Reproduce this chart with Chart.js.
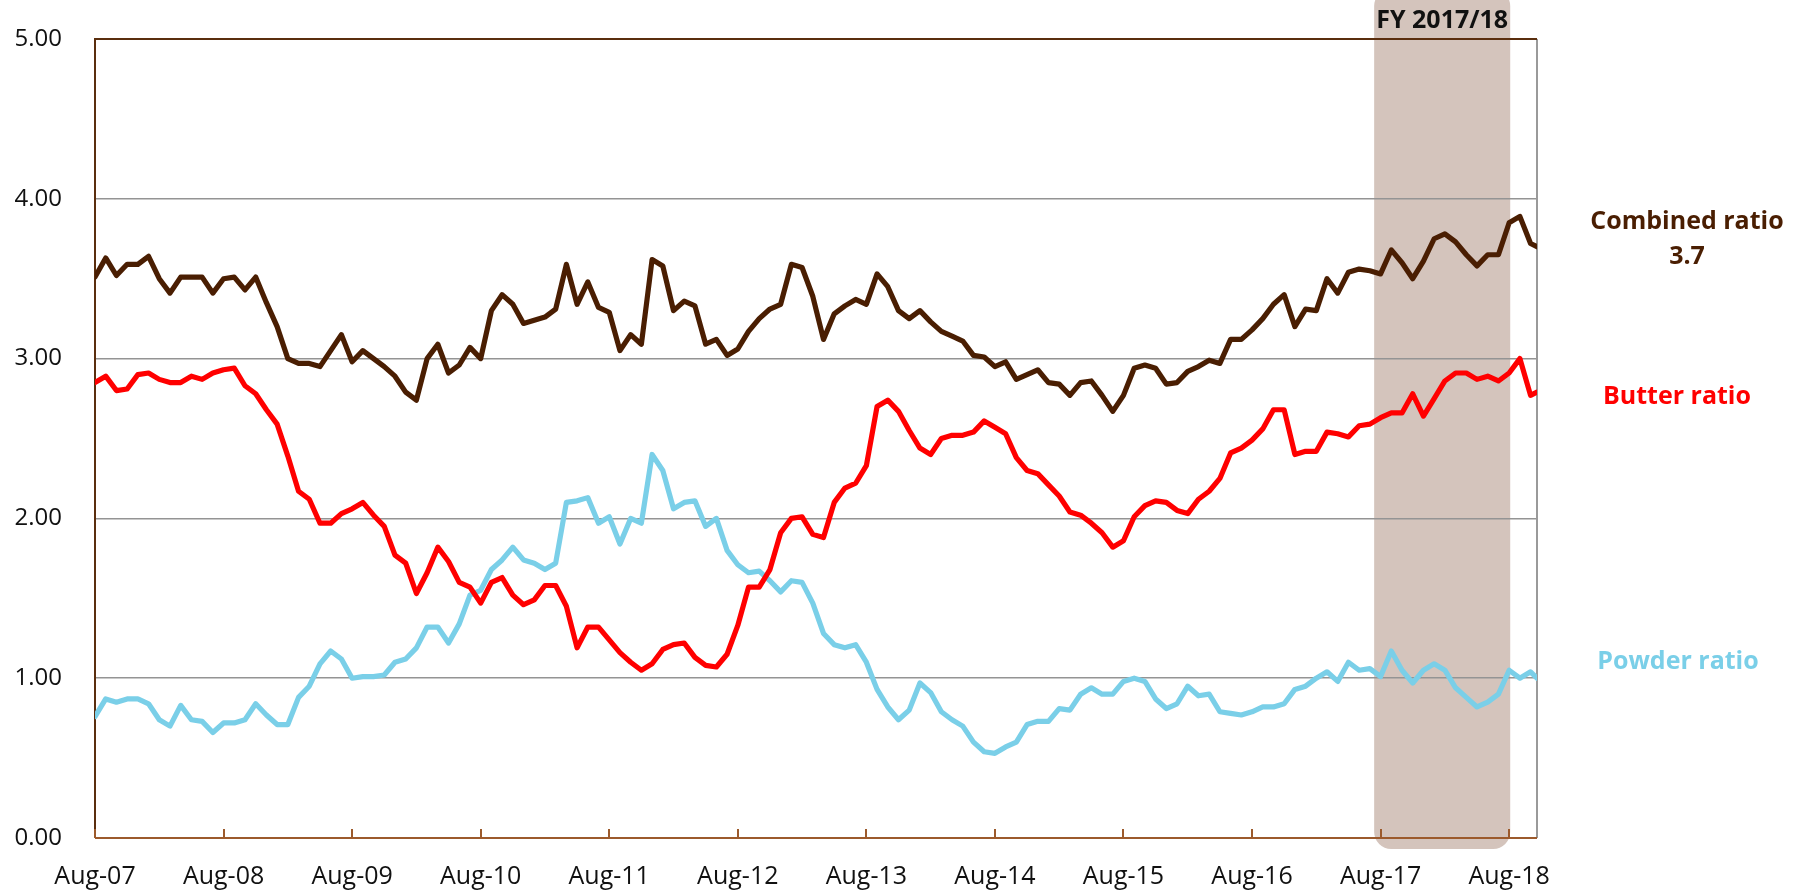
<!DOCTYPE html>
<html><head><meta charset="utf-8">
<script src="https://cdn.jsdelivr.net/npm/chart.js@4/dist/chart.umd.min.js"></script>
<style>html,body{margin:0;padding:0;background:#fff;}canvas{display:block;}</style>
</head><body>
<canvas id="c" width="1797" height="892"></canvas>
<script>
// x positions: months since Aug-07
const tickMonths = [0,12,24,36,48,60,72,84,96,108,120,132];
const tickLabels = ["Aug-07","Aug-08","Aug-09","Aug-10","Aug-11","Aug-12","Aug-13","Aug-14","Aug-15","Aug-16","Aug-17","Aug-18"];
const yTicks = [0,1,2,3,4,5];
const months = Array.from({length:135},(_, i)=>i).concat([134.6]);

const combined = [3.51,3.63,3.52,3.59,3.59,3.64,3.50,3.41,3.51,3.51,3.51,3.41,3.50,3.51,3.43,3.51,3.35,3.20,3.00,2.97,2.97,2.95,3.05,
3.15,2.98,3.05,3.00,2.95,2.89,2.79,2.74,3.00,3.09,2.91,2.96,3.07,3.00,3.30,3.40,3.34,3.22,3.24,3.26,3.31,3.59,
3.34,3.48,3.32,3.29,3.05,3.15,3.09,3.62,3.58,3.30,3.36,3.33,3.09,3.12,3.02,3.06,3.17,3.25,3.31,3.34,3.59,3.57,3.39,
3.12,3.28,3.33,3.37,3.34,3.53,3.45,3.30,3.25,3.30,3.23,3.17,3.14,3.11,3.02,3.01,2.95,2.98,2.87,2.90,2.93,2.85,
2.84,2.77,2.85,2.86,2.77,2.67,2.77,2.94,2.96,2.94,2.84,2.85,2.92,2.95,2.99,2.97,3.12,3.12,3.18,3.25,3.34,3.40,3.20,
3.31,3.30,3.50,3.41,3.54,3.56,3.55,3.53,3.68,3.60,3.50,3.61,3.75,3.78,3.73,3.65,3.58,3.65,3.65,3.85,3.89,3.72,3.70];

const butter = [2.85,2.89,2.80,2.81,2.90,2.91,2.87,2.85,2.85,2.89,2.87,2.91,2.93,2.94,2.83,2.78,2.68,2.59,2.39,2.17,2.12,1.97,1.97,
2.03,2.06,2.10,2.02,1.95,1.77,1.72,1.53,1.66,1.82,1.73,1.60,1.57,1.47,1.60,1.63,1.52,1.46,1.49,1.58,1.58,1.45,
1.19,1.32,1.32,1.24,1.16,1.10,1.05,1.09,1.18,1.21,1.22,1.13,1.08,1.07,1.15,1.33,1.57,1.57,1.68,1.91,2.00,2.01,1.90,
1.88,2.10,2.19,2.22,2.33,2.70,2.74,2.67,2.55,2.44,2.40,2.50,2.52,2.52,2.54,2.61,2.57,2.53,2.38,2.30,2.28,2.21,
2.14,2.04,2.02,1.97,1.91,1.82,1.86,2.01,2.08,2.11,2.10,2.05,2.03,2.12,2.17,2.25,2.41,2.44,2.49,2.56,2.68,2.68,2.40,
2.42,2.42,2.54,2.53,2.51,2.58,2.59,2.63,2.66,2.66,2.78,2.64,2.75,2.86,2.91,2.91,2.87,2.89,2.86,2.91,3.00,2.77,2.79];

const powder = [0.76,0.87,0.85,0.87,0.87,0.84,0.74,0.70,0.83,0.74,0.73,0.66,0.72,0.72,0.74,0.84,0.77,0.71,0.71,0.88,0.95,1.09,1.17,
1.12,1.00,1.01,1.01,1.02,1.10,1.12,1.19,1.32,1.32,1.22,1.34,1.52,1.55,1.68,1.74,1.82,1.74,1.72,1.68,1.72,2.10,
2.11,2.13,1.97,2.01,1.84,2.00,1.97,2.40,2.30,2.06,2.10,2.11,1.95,2.00,1.80,1.71,1.66,1.67,1.61,1.54,1.61,1.60,1.47,
1.28,1.21,1.19,1.21,1.10,0.93,0.82,0.74,0.80,0.97,0.91,0.79,0.74,0.70,0.60,0.54,0.53,0.57,0.60,0.71,0.73,0.73,
0.81,0.80,0.90,0.94,0.90,0.90,0.98,1.00,0.98,0.87,0.81,0.84,0.95,0.89,0.90,0.79,0.78,0.77,0.79,0.82,0.82,0.84,0.93,
0.95,1.00,1.04,0.98,1.10,1.05,1.06,1.01,1.17,1.05,0.97,1.05,1.09,1.05,0.94,0.88,0.82,0.85,0.90,1.05,1.00,1.04,1.00];

const fyStart = 119.4, fyEnd = 132.1;
const fyLabel = "FY 2017/18";
const combinedLabel = ["Combined ratio", "3.7"];
const butterLabel = "Butter ratio";
const powderLabel = "Powder ratio";

const C_COMB = '#4A1E02', C_BUT = '#FF0000', C_POW = '#7ACFE8';
const toPts = arr => arr.map((v,i)=>({x:months[i], y:v}));

const deco = {
  id:'deco',
  beforeDraw(chart){
    const {ctx, chartArea:a, scales:{x}} = chart;
    const l = x.getPixelForValue(fyStart), r = x.getPixelForValue(fyEnd);
    ctx.save();
    ctx.fillStyle = '#D4C4BC';
    ctx.beginPath();
    ctx.roundRect(l, a.top - 50, r - l, a.bottom - a.top + 61, 17);
    ctx.fill();
    ctx.restore();
  },
  beforeDatasetsDraw(chart){
    const {ctx, chartArea:a, scales:{x}} = chart;
    ctx.save();
    ctx.lineWidth = 2;
    ctx.strokeStyle = '#9A9A9A';
    ctx.beginPath(); ctx.moveTo(a.right, a.top); ctx.lineTo(a.right, a.bottom); ctx.stroke();
    ctx.strokeStyle = '#5A2E0E';
    ctx.beginPath(); ctx.moveTo(a.right, a.top); ctx.lineTo(a.left, a.top); ctx.lineTo(a.left, a.bottom); ctx.stroke();
    ctx.strokeStyle = '#9C5A2C';
    ctx.beginPath(); ctx.moveTo(a.left, a.bottom); ctx.lineTo(a.right, a.bottom); ctx.stroke();
    tickMonths.forEach(m=>{
      const px = Math.round(x.getPixelForValue(m));
      ctx.beginPath(); ctx.moveTo(px, a.bottom); ctx.lineTo(px, a.bottom - 9); ctx.stroke();
    });
    ctx.restore();
  },
  afterDraw(chart){
    const {ctx, scales:{x}} = chart;
    ctx.save();
    ctx.textAlign = 'center'; ctx.textBaseline = 'middle';
    ctx.font = 'bold 25px "Open Sans"';
    ctx.fillStyle = '#111';
    ctx.fillText(fyLabel, (x.getPixelForValue(fyStart)+x.getPixelForValue(fyEnd))/2, 21);
    ctx.fillStyle = C_COMB;
    ctx.fillText(combinedLabel[0], 1687, 222);
    ctx.fillText(combinedLabel[1], 1687, 257);
    ctx.fillStyle = C_BUT;
    ctx.fillText(butterLabel, 1677, 397);
    ctx.fillStyle = C_POW;
    ctx.fillText(powderLabel, 1678, 662);
    ctx.restore();
  }
};

const ds = (label, arr, color) => ({label, data: toPts(arr), borderColor: color, borderWidth: 5.2,
  pointRadius: 0, tension: 0, fill: false, borderJoinStyle: 'round', borderCapStyle: 'round'});

new Chart(document.getElementById('c'), {
  type: 'line',
  data: { datasets: [ ds('Combined ratio', combined, C_COMB), ds('Butter ratio', butter, C_BUT), ds('Powder ratio', powder, C_POW) ] },
  options: {
    responsive: false, animation: false, devicePixelRatio: 1,
    layout: { padding: { top: 39, right: 260, left: 0, bottom: 0 } },
    plugins: { legend: { display: false }, tooltip: { enabled: false } },
    scales: {
      x: {
        type: 'linear', min: 0, max: 134.6,
        afterBuildTicks: s => { s.ticks = tickMonths.map(v => ({value: v})); },
        afterFit: s => { s.height = 54; },
        grid: { display: false, drawTicks: false },
        border: { display: false },
        ticks: { padding: 24, maxRotation: 0, autoSkip: false, color: '#111',
          font: { family: '"Open Sans"', size: 25 },
          callback: (v, i) => tickLabels[i] }
      },
      y: {
        min: 0, max: 5,
        afterBuildTicks: s => { s.ticks = yTicks.map(v => ({value: v})); },
        afterFit: s => { s.width = 95; s.paddingTop = 0; s.paddingBottom = 0; },
        grid: { color: '#949494', lineWidth: 1.5, drawTicks: false },
        border: { display: false },
        ticks: { padding: 33, color: '#111', font: { family: '"Open Sans"', size: 24 },
          callback: v => Number(v).toFixed(2) }
      }
    }
  },
  plugins: [deco]
});
</script>
</body></html>
